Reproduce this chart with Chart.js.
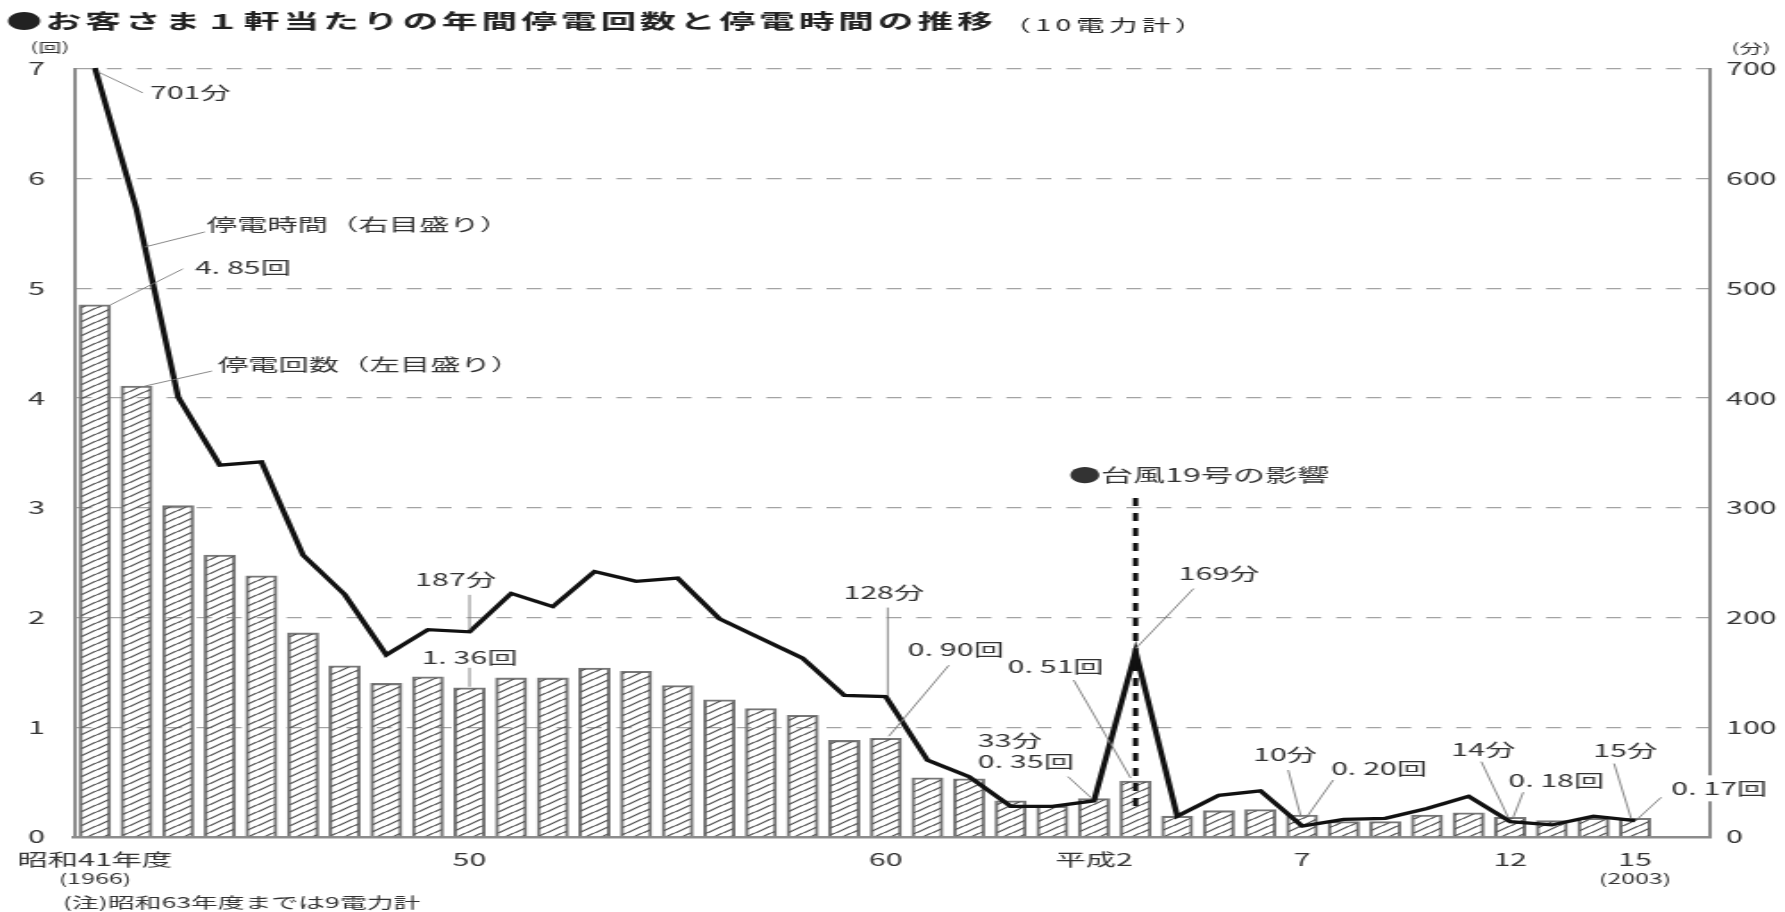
<!DOCTYPE html>
<html lang="ja">
<head>
<meta charset="utf-8">
<title>お客さま１軒当たりの年間停電回数と停電時間の推移</title>
<script src="https://cdn.jsdelivr.net/npm/chart.js@4.4.1/dist/chart.umd.min.js"></script>
<style>
  html, body { margin: 0; padding: 0; background: #fff; overflow: hidden; }
  /* the chart is laid out on a 1000px wide canvas and widened to fill the page */
  #wrap { position: absolute; left: 0; top: 0; width: 1000px; height: 912px;
          transform: scaleX(1.785); transform-origin: 0 0; }
  canvas { display: block; }
</style>
</head>
<body>
<div id="wrap"><canvas id="chart" width="1000" height="912" style="width:1000px;height:912px"></canvas></div>
<script>
// 年度（昭和41年度＝1966 〜 平成15年度＝2003）
const fiscalYears = [1966, 1967, 1968, 1969, 1970, 1971, 1972, 1973, 1974, 1975,
                     1976, 1977, 1978, 1979, 1980, 1981, 1982, 1983, 1984, 1985,
                     1986, 1987, 1988, 1989, 1990, 1991, 1992, 1993, 1994, 1995,
                     1996, 1997, 1998, 1999, 2000, 2001, 2002, 2003];

// 停電回数（回／軒・年）… 左目盛り
const outageCount = [4.85, 4.11, 3.02, 2.57, 2.38, 1.86, 1.56, 1.40, 1.46, 1.36,
                     1.45, 1.45, 1.54, 1.51, 1.38, 1.25, 1.17, 1.11, 0.88, 0.90,
                     0.54, 0.53, 0.33, 0.28, 0.35, 0.51, 0.19, 0.24, 0.25, 0.20,
                     0.14, 0.14, 0.20, 0.22, 0.18, 0.15, 0.17, 0.17];

// 停電時間（分／軒・年）… 右目盛り
const outageMinutes = [701, 572, 401, 339, 342, 257, 221, 166, 189, 187,
                       222, 210, 242, 233, 236, 199, 181, 163, 129, 128,
                        70,  55,  28,  28,  33, 169,  19,  38,  42,  10,
                        16,  17,  26,  37,  14,  11,  19,  15];

// 横軸の目盛り（年度の位置と表記）
const tickIndex = [0, 9, 19, 24, 29, 34, 37];
const tickText  = ['昭和41年度', '50', '60', '平成2', '7', '12', '15'];
const tickSubIndex = [0, 37];
const tickSubText  = ['(1966)', '(2003)'];

const typhoonYearIndex = 25;   // 平成3年度

const FONT = "'Noto Sans CJK JP', 'Noto Sans', sans-serif";
const INK = '#333';

const fmtCount = v => v.toFixed(2).replace('.', '. ') + '回';
const fmtMin = v => v + '分';

// hatched fill for the bars
function hatchPattern() {
  const w = 9, h = 7;
  const c = document.createElement('canvas');
  c.width = w; c.height = h;
  const g = c.getContext('2d');
  g.strokeStyle = '#4a4a4a';
  g.lineWidth = 1.1;
  g.beginPath();
  for (const k of [-1, 0, 1]) {
    g.moveTo(k * w - 1, h + 1);
    g.lineTo(k * w + w + 1, -1);
  }
  g.stroke();
  return g.createPattern(c, 'repeat');
}

// value labels with leader lines: anchored on a bar top ('cnt') or a line vertex ('min')
const callouts = [
  { s: 'min', i: 0,  ln: [1.7, 4, 26.9, 25],      tx: [30.8, 25, 'left'] },
  { s: 'cnt', i: 0,  ln: [8.7, 0, 49.3, -36],     tx: [56, -37, 'left'] },
  { s: 'min', i: 9,  ln: [0, -2, 0, -37],         tx: [-7.8, -52, 'center'] },
  { s: 'cnt', i: 9,  ln: [0, -1, 0, -20],         tx: [0, -30, 'center'] },
  { s: 'min', i: 19, ln: [1.1, -1, 1.1, -89],     tx: [-1.1, -104, 'center'] },
  { s: 'cnt', i: 19, ln: [1.7, -2, 35.3, -73],    tx: [12.3, -89, 'left'] },
  { s: 'cnt', i: 24, ln: [-1.7, -1, -14.6, -22],  tx: [-65, -37, 'left'] },
  { s: 'min', i: 24, ln: null,                    tx: [-65, -60, 'left'] },
  { s: 'cnt', i: 25, ln: [-2.8, -3, -34.7, -101], tx: [-71.7, -114, 'left'] },
  { s: 'min', i: 25, ln: [0, -3, 32.5, -63],      tx: [24.1, -78, 'left'] },
  { s: 'min', i: 29, ln: [-0.6, -9, -7.8, -56],   tx: [-27.5, -71, 'left'] },
  { s: 'cnt', i: 29, ln: [3.4, 0, 17.4, -35],     tx: [16.2, -47, 'left'] },
  { s: 'min', i: 34, ln: [-1.1, -4, -16.2, -60],  tx: [-33, -72, 'left'] },
  { s: 'cnt', i: 34, ln: [1.7, 0, 7.3, -25],      tx: [-1.1, -37, 'left'] },
  { s: 'min', i: 37, ln: [-2.2, -2, -11.8, -57],  tx: [-23.5, -70, 'left'] },
  { s: 'cnt', i: 37, ln: [1.7, 0, 14.6, -21],     tx: [20.2, -30, 'left'], bg: true }
];

function drawSpaced(ctx, str, x, y, spacing) {
  for (const ch of str) {
    ctx.fillText(ch, x, y);
    x += ctx.measureText(ch).width + spacing;
  }
  return x;
}

const annotations = {
  id: 'annotations',
  afterDatasetsDraw(chart) {
    const { ctx, scales } = chart;
    const xs = scales.x, yl = scales.y, yr = scales.y2;

    const anchor = (s, i) => s === 'cnt'
      ? [xs.getPixelForValue(i), yl.getPixelForValue(outageCount[i])]
      : [xs.getPixelForValue(i), yr.getPixelForValue(outageMinutes[i])];

    ctx.save();
    ctx.textBaseline = 'middle';

    // typhoon marker
    const tx = xs.getPixelForValue(typhoonYearIndex);
    ctx.strokeStyle = '#111';
    ctx.lineWidth = 3;
    ctx.setLineDash([8, 7]);
    ctx.beginPath();
    ctx.moveTo(tx, yl.getPixelForValue(3.09));
    ctx.lineTo(tx, yl.getPixelForValue(0.27));
    ctx.stroke();
    ctx.setLineDash([]);
    ctx.fillStyle = INK;
    ctx.font = `18px ${FONT}`;
    ctx.textAlign = 'left';
    ctx.fillText('●台風19号の影響', tx - 37.5, yl.getPixelForValue(3.09) - 23);

    // series captions
    ctx.strokeStyle = '#7a7a7a';
    ctx.lineWidth = 0.9;
    ctx.font = `17px ${FONT}`;
    {
      const f = 0.2, i = 1;
      const v = outageMinutes[i] + (outageMinutes[i + 1] - outageMinutes[i]) * f;
      const ax = xs.getPixelForValue(i + f), ay = yr.getPixelForValue(v);
      ctx.beginPath(); ctx.moveTo(ax, ay); ctx.lineTo(ax + 33.6, ay - 15); ctx.stroke();
      ctx.fillText('停電時間（右目盛り）', ax + 34.7, ay - 22);
    }
    {
      const [ax, ay] = anchor('cnt', 1);
      ctx.beginPath(); ctx.moveTo(ax + 4.7, ay); ctx.lineTo(ax + 42.2, ay - 15); ctx.stroke();
      ctx.fillText('停電回数（左目盛り）', ax + 45.6, ay - 22);
    }

    // value callouts
    for (const c of callouts) {
      const [ax, ay] = anchor(c.s, c.i);
      const label = c.s === 'cnt' ? fmtCount(outageCount[c.i]) : fmtMin(outageMinutes[c.i]);
      if (c.ln) {
        ctx.beginPath();
        ctx.moveTo(ax + c.ln[0], ay + c.ln[1]);
        ctx.lineTo(ax + c.ln[2], ay + c.ln[3]);
        ctx.stroke();
      }
      ctx.textAlign = c.tx[2];
      if (c.bg) {
        const w = ctx.measureText(label).width;
        ctx.fillStyle = '#fff';
        ctx.fillRect(ax + c.tx[0] - 2, ay + c.tx[1] - 13, w + 4, 26);
      }
      ctx.fillStyle = INK;
      ctx.fillText(label, ax + c.tx[0], ay + c.tx[1]);
    }

    // second line under the first and last year labels
    ctx.textAlign = 'center';
    ctx.font = `14px ${FONT}`;
    tickSubIndex.forEach((i, k) => ctx.fillText(tickSubText[k], xs.getPixelForValue(i), 879));

    // note
    ctx.textAlign = 'left';
    ctx.font = `15px ${FONT}`;
    ctx.fillText('(注)昭和63年度までは9電力計', 35.3, 902);

    // axis units
    ctx.font = `13px ${FONT}`;
    ctx.textAlign = 'center';
    ctx.fillText('(回)', 28, 47);
    ctx.fillText('(分)', 981, 48);

    // title
    ctx.textAlign = 'left';
    ctx.fillStyle = '#222';
    ctx.font = `bold 20px ${FONT}`;
    const end = drawSpaced(ctx, '●お客さま１軒当たりの年間停電回数と停電時間の推移', 3.4, 21.5, 2.2);
    ctx.font = `16px ${FONT}`;
    drawSpaced(ctx, '（10電力計）', end + 3, 24.5, 2.5);

    ctx.restore();
  }
};

new Chart(document.getElementById('chart'), {
  type: 'bar',
  data: {
    datasets: [
      {
        type: 'line',
        label: '停電時間',
        data: outageMinutes.map((v, i) => ({ x: i, y: v })),
        yAxisID: 'y2',
        borderColor: '#111',
        borderWidth: 3.3,
        borderJoinStyle: 'miter',
        pointRadius: 0,
        tension: 0,
        clip: false,
        order: 0
      },
      {
        type: 'bar',
        label: '停電回数',
        data: outageCount.map((v, i) => ({ x: i, y: v })),
        yAxisID: 'y',
        backgroundColor: hatchPattern(),
        borderColor: '#777',
        borderWidth: 1.4,
        barThickness: 17.4,
        order: 1
      }
    ]
  },
  options: {
    responsive: false,
    animation: false,
    devicePixelRatio: 1,
    layout: { padding: { top: 69, left: 0, right: 0, bottom: 0 } },
    plugins: { legend: { display: false }, tooltip: { enabled: false }, title: { display: false } },
    scales: {
      x: {
        type: 'linear',
        min: -0.5,
        max: 38.8,
        offset: false,
        grid: { display: false, drawTicks: false },
        border: { display: true, color: '#8c8c8c', width: 2.5 },
        ticks: {
          autoSkip: false,
          maxRotation: 0,
          padding: 12,
          color: INK,
          font: { family: FONT, size: 17 },
          callback: v => { const k = tickIndex.indexOf(v); return k < 0 ? '' : tickText[k]; }
        },
        afterBuildTicks: s => { s.ticks = tickIndex.map(v => ({ value: v })); },
        afterFit: s => { s.height = 75; s.paddingLeft = 0; s.paddingRight = 0; }
      },
      y: {
        position: 'left',
        min: 0,
        max: 7,
        ticks: { stepSize: 1, padding: 16.3, color: INK, font: { family: FONT, size: 17 } },
        grid: {
          color: c => (c.tick && c.tick.value === 0) ? 'rgba(0,0,0,0)' : '#a3a3a3',
          lineWidth: 1.3,
          drawTicks: false
        },
        border: { color: '#8c8c8c', width: 2, dash: [8.4, 8.4] },
        afterFit: s => { s.width = 41.5; }
      },
      y2: {
        position: 'right',
        min: 0,
        max: 700,
        ticks: { stepSize: 100, padding: 9, color: INK, font: { family: FONT, size: 17 } },
        grid: { drawOnChartArea: false, drawTicks: false },
        border: { color: '#8c8c8c', width: 2 },
        afterFit: s => { s.width = 42; }
      }
    }
  },
  plugins: [annotations]
});
</script>
</body>
</html>
